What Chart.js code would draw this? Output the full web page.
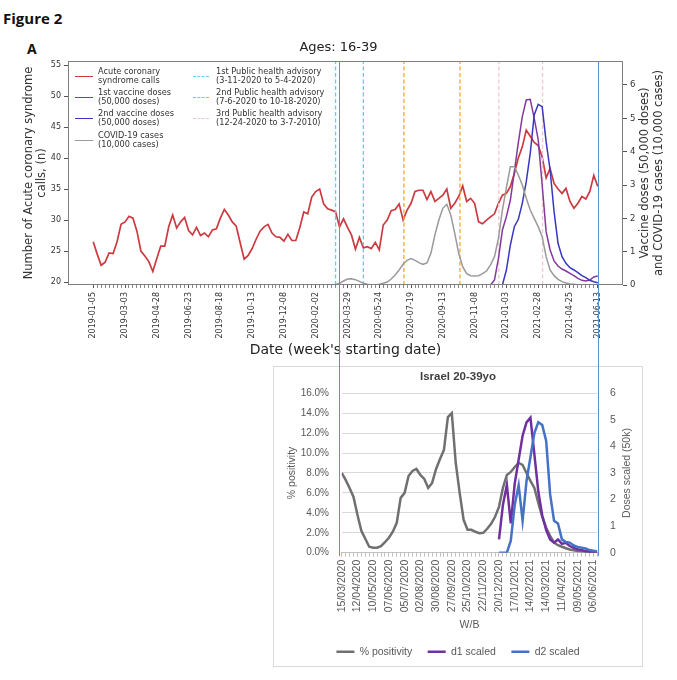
<!DOCTYPE html>
<html>
<head>
<meta charset="utf-8">
<script src="https://cdn.jsdelivr.net/npm/chart.js@4.4.1/dist/chart.umd.min.js"></script>
<style>
  html, body { margin:0; padding:0; background:#fff; }
  body { width:677px; height:680px; position:relative; overflow:hidden; }
  .abs { position:absolute; }
  #figLabel { left:3px; top:8px; font:700 15px 'Open Sans', sans-serif; color:#111; line-height:20px; }
  #panelA { left:27px; top:40px; font:700 14px 'Open Sans', sans-serif; color:#111; line-height:18px; }
  #topWrap { left:0; top:0; width:677px; height:360px; }
  #botFrame { left:273px; top:366px; width:370px; height:301px; border:1px solid #d9d9d9; box-sizing:border-box; }
  #botWrap { left:273px; top:366px; width:370px; height:301px; }
  .leg { font-family:'DejaVu Sans', sans-serif; font-size:8.2px; line-height:9px; color:#333; white-space:nowrap; }
  .sw { height:0; }
  .rtitle { text-align:center; white-space:nowrap; transform:rotate(-90deg); transform-origin:50% 50%; }
  .overlay { background:#5b8fd4; width:1.4px; }
</style>
</head>
<body>
<div id="figLabel" class="abs">Figure 2</div>
<div id="panelA" class="abs">A</div>

<div id="topWrap" class="abs"><canvas id="topChart" width="677" height="360"></canvas></div>

<!-- legend of the top panel -->
<div class="abs sw" style="left:75px;top:75.5px;width:18px;border-top:1.6px solid #cc3a40;"></div>
<div class="abs leg" style="left:98px;top:66.5px;">Acute coronary<br>syndrome calls</div>
<div class="abs sw" style="left:75px;top:96.5px;width:18px;border-top:1.5px solid #84389c;"></div>
<div class="abs leg" style="left:98px;top:87.5px;">1st vaccine doses<br>(50,000 doses)</div>
<div class="abs sw" style="left:75px;top:117.5px;width:18px;border-top:1.5px solid #3737c0;"></div>
<div class="abs leg" style="left:98px;top:108.5px;">2nd vaccine doses<br>(50,000 doses)</div>
<div class="abs sw" style="left:75px;top:139.5px;width:18px;border-top:1.5px solid #9a9a9a;"></div>
<div class="abs leg" style="left:98px;top:130.5px;">COVID-19 cases<br>(10,000 cases)</div>
<div class="abs sw" style="left:193px;top:75.5px;width:16px;border-top:1.4px dashed #55d6e2;"></div>
<div class="abs leg" style="left:216px;top:66.5px;">1st Public health advisory<br>(3-11-2020 to 5-4-2020)</div>
<div class="abs sw" style="left:193px;top:96.5px;width:16px;border-top:1.4px dashed #f0a830;"></div>
<div class="abs leg" style="left:216px;top:87.5px;">2nd Public health advisory<br>(7-6-2020 to 10-18-2020)</div>
<div class="abs sw" style="left:193px;top:117.5px;width:16px;border-top:1.4px dashed #f2c6cf;"></div>
<div class="abs leg" style="left:216px;top:108.5px;">3rd Public health advisory<br>(12-24-2020 to 3-7-2010)</div>

<div class="abs rtitle" style="left:531px;top:159px;width:240px;height:28px;font:11.5px/14px 'DejaVu Sans',sans-serif;color:#333;">Vaccine doses (50,000 doses)<br>and COVID-19 cases (10,000 cases)</div>

<div id="botFrame" class="abs"></div>
<div id="botWrap" class="abs"><canvas id="botChart" width="370" height="301"></canvas></div>
<div class="abs rtitle" style="left:566px;top:466px;width:120px;height:14px;font:10.5px/14px 'Liberation Sans',sans-serif;color:#595959;">Doses scaled (50k)</div>

<div class="abs overlay" style="left:338.8px;top:61px;height:495px;"></div>
<div class="abs overlay" style="left:597.6px;top:61px;height:495px;"></div>

<script>
// ---------------- Panel A data (weekly, index 0 = 2019-01-05) ----------------
const weekTickPos = [0, 8, 16, 24, 32, 40, 48, 56, 64, 72, 80, 88, 96, 104, 112, 120, 127];
const weekTickLabels = ['2019-01-05','2019-03-03','2019-04-28','2019-06-23','2019-08-18','2019-10-13',
  '2019-12-08','2020-02-02','2020-03-29','2020-05-24','2020-07-19','2020-09-13','2020-11-08',
  '2021-01-03','2021-02-28','2021-04-25','2021-06-13'];

const acsCalls = [
  26.5, 24.5, 22.7, 23.2, 24.7, 24.6, 26.5, 29.3, 29.7, 30.6,
  30.3, 28.2, 25.0, 24.2, 23.3, 21.7, 23.8, 25.8, 25.8, 28.9,
  30.8, 28.7, 29.7, 30.4, 28.3, 27.6, 28.8, 27.5, 27.9, 27.3,
  28.4, 28.6, 30.3, 31.7, 30.8, 29.7, 29.0, 26.3, 23.7, 24.3,
  25.4, 26.9, 28.2, 28.9, 29.3, 27.9, 27.3, 27.2, 26.6, 27.7,
  26.7, 26.7, 28.8, 31.3, 31.0, 33.7, 34.6, 35.0, 32.6, 31.8,
  31.6, 31.3, 28.9, 30.2, 28.8, 27.6, 25.3, 27.2, 25.5, 25.7,
  25.4, 26.4, 25.2, 29.2, 30.0, 31.5, 31.7, 32.6, 30.0, 31.6,
  32.7, 34.6, 34.8, 34.8, 33.3, 34.6, 33.0, 33.5, 34.0, 35.0,
  31.9, 32.7, 33.8, 35.5, 33.0, 33.5, 32.7, 29.7, 29.4, 30.0,
  30.5, 31.0, 32.7, 34.0, 34.3, 35.4, 37.5, 40.0, 41.8, 44.5,
  43.5, 42.5, 42.0, 40.2, 36.8, 38.3, 35.9, 35.0, 34.3, 35.1,
  33.0, 31.9, 32.7, 33.8, 33.4, 34.6, 37.2, 35.4
];

const covidCasesStart = 59;   // first week with COVID-19 case data
const covidCases = [
  0, 0, 0.01, 0.05, 0.12, 0.18, 0.19, 0.16, 0.11, 0.05,
  0.02, 0, 0, 0.02, 0.05, 0.09, 0.18, 0.30, 0.45, 0.62,
  0.74, 0.79, 0.74, 0.67, 0.62, 0.66, 0.95, 1.50, 1.95, 2.30,
  2.42, 2.10, 1.55, 0.95, 0.55, 0.34, 0.28, 0.27, 0.28, 0.34,
  0.42, 0.60, 0.85, 1.40, 2.25, 2.92, 3.55, 3.55, 3.30, 3.00,
  2.60, 2.25, 2.00, 1.75, 1.45, 0.85, 0.45, 0.28, 0.17, 0.10,
  0.06, 0.03, 0.02, 0.01, 0, 0, 0, 0, 0
];

const dose1Start = 100;
const dose1 = [0, 0.15, 0.80, 1.65, 2.05, 2.55, 3.40, 4.27, 5.05, 5.55,
  5.57, 5.00, 4.37, 3.00, 1.60, 1.05, 0.72, 0.57, 0.48, 0.42,
  0.35, 0.28, 0.20, 0.14, 0.12, 0.15, 0.24, 0.27];

const dose2Start = 103;
const dose2 = [0, 0.45, 1.20, 1.75, 1.97, 2.45, 3.10, 3.95, 5.10, 5.42,
  5.35, 4.30, 3.45, 2.20, 1.25, 0.85, 0.65, 0.52, 0.45, 0.37,
  0.28, 0.22, 0.14, 0.10, 0.07];

const advisory1Weeks = [61.0, 68.0];
const advisory2Weeks = [78.2, 92.3];
const advisory3Weeks = [102.1, 113.1];

// ---------------- Panel B data (weekly, index 0 = 15/03/2020) ----------------
const ilTickPos = [0, 4, 8, 12, 16, 20, 24, 28, 32, 36, 40, 44, 48, 52, 56, 60, 64];
const ilTickLabels = ['15/03/2020','12/04/2020','10/05/2020','07/06/2020','05/07/2020','02/08/2020',
  '30/08/2020','27/09/2020','25/10/2020','22/11/2020','20/12/2020','17/01/2021','14/02/2021',
  '14/03/2021','11/04/2021','09/05/2021','06/06/2021'];

const positivity = [
  8.0, 7.3, 6.5, 5.6, 3.8, 2.2, 1.4, 0.6, 0.5, 0.5,
  0.65, 1.05, 1.5, 2.1, 3.0, 5.5, 6.0, 7.7, 8.2, 8.4,
  7.8, 7.4, 6.5, 7.0, 8.4, 9.4, 10.3, 13.6, 14.0, 9.0,
  6.0, 3.3, 2.3, 2.3, 2.1, 1.95, 2.0, 2.4, 2.9, 3.6,
  4.6, 6.5, 7.8, 8.1, 8.6, 9.0, 8.8, 8.0, 7.2, 6.5,
  5.0, 3.6, 2.5, 1.7, 1.0, 0.75, 0.6, 0.45, 0.32, 0.25,
  0.18, 0.14, 0.10, 0.07, 0.05, 0.04
];

const d1Start = 40;
const d1Scaled = [0.5, 1.8, 2.55, 1.1, 2.6, 3.5, 4.4, 4.9, 5.08, 3.7,
  2.3, 1.4, 0.85, 0.5, 0.38, 0.5, 0.33, 0.37, 0.25, 0.18,
  0.13, 0.10, 0.06, 0.04, 0.03, 0.02];

const d2Start = 40;
const d2Scaled = [0, 0, 0, 0.45, 1.8, 2.54, 1.2, 2.7, 3.6, 4.5,
  4.91, 4.8, 4.2, 2.2, 1.2, 1.1, 0.5, 0.4, 0.38, 0.27,
  0.22, 0.19, 0.16, 0.10, 0.07, 0.05];

// ---------------- helpers ----------------
const toPts = (start, arr) => arr.map((v, i) => ({ x: start + i, y: v }));
function vlines(weeks, lo, hi) {
  const pts = [];
  weeks.forEach((w, k) => {
    if (k > 0) pts.push({ x: (weeks[k - 1] + w) / 2, y: null });
    pts.push({ x: w, y: lo }, { x: w, y: hi });
  });
  return pts;
}
const framePlugin = {
  id: 'frame',
  afterDatasetsDraw(chart, args, opts) {
    const { ctx, chartArea: a } = chart;
    ctx.save();
    ctx.strokeStyle = opts.color || '#808080';
    ctx.lineWidth = opts.width || 1;
    ctx.strokeRect(Math.round(a.left) + 0.5, Math.round(a.top) + 0.5,
      Math.round(a.width) - 1, Math.round(a.height) - 1);
    ctx.restore();
  }
};

// ---------------- Panel A chart ----------------
const topLabelAt = {};
weekTickPos.forEach((p, k) => { topLabelAt[p] = weekTickLabels[k]; });
const leftMin = 19.52, leftMax = 55.65;
const dv = 'DejaVu Sans';

new Chart(document.getElementById('topChart'), {
  type: 'line',
  data: {
    datasets: [
      { label: 'COVID-19 cases', data: toPts(covidCasesStart, covidCases), yAxisID: 'y2',
        borderColor: '#9a9a9a', borderWidth: 1.5, pointRadius: 0, order: 1 },
      { label: '2nd vaccine doses', data: toPts(dose2Start, dose2), yAxisID: 'y2',
        borderColor: '#3737c0', borderWidth: 1.5, pointRadius: 0, order: 2 },
      { label: '1st vaccine doses', data: toPts(dose1Start, dose1), yAxisID: 'y2',
        borderColor: '#84389c', borderWidth: 1.5, pointRadius: 0, order: 3 },
      { label: '3rd advisory', data: vlines(advisory3Weeks, leftMin, leftMax), yAxisID: 'y',
        borderColor: '#f2c6cf', borderWidth: 1.3, borderDash: [4, 2.5], pointRadius: 0, spanGaps: false, order: 4 },
      { label: '2nd advisory', data: vlines(advisory2Weeks, leftMin, leftMax), yAxisID: 'y',
        borderColor: '#f0a830', borderWidth: 1.3, borderDash: [4, 2.5], pointRadius: 0, spanGaps: false, order: 5 },
      { label: '1st advisory', data: vlines(advisory1Weeks, leftMin, leftMax), yAxisID: 'y',
        borderColor: '#55d6e2', borderWidth: 1.3, borderDash: [4, 2.5], pointRadius: 0, spanGaps: false, order: 6 },
      { label: 'Acute coronary syndrome calls', data: toPts(0, acsCalls), yAxisID: 'y',
        borderColor: '#cc3a40', borderWidth: 1.7, pointRadius: 0, order: 7 }
    ]
  },
  options: {
    responsive: false, animation: false, events: [],
    layout: { padding: 0 },
    plugins: {
      legend: { display: false },
      tooltip: { enabled: false },
      title: { display: true, text: 'Ages: 16-39', color: '#222',
        font: { family: dv, size: 13, weight: 'normal' }, padding: { top: 39.4, bottom: 6 } },
      frame: { color: '#808080', width: 1 }
    },
    scales: {
      x: {
        type: 'linear', min: -6.35, max: 133.35,
        afterBuildTicks(s) { s.ticks = acsCalls.map((_, i) => ({ value: i })); },
        afterFit(s) { s.height = 75; },
        ticks: { autoSkip: false, minRotation: 90, maxRotation: 90, padding: 4, color: '#333',
          font: { family: dv, size: 8 }, callback: (v) => topLabelAt[v] !== undefined ? topLabelAt[v] : '' },
        grid: { drawOnChartArea: false, drawTicks: true, tickLength: 3, tickColor: '#555',
          tickWidth: (c) => (c.tick && topLabelAt[c.tick.value] !== undefined) ? 1 : 0.7 },
        border: { display: false },
        title: { display: true, text: "Date (week's starting date)", color: '#222',
          font: { family: dv, size: 14 }, padding: { top: 0, bottom: 1 } }
      },
      y: {
        position: 'left', min: leftMin, max: leftMax,
        afterBuildTicks(s) { s.ticks = [20, 25, 30, 35, 40, 45, 50, 55].map(v => ({ value: v })); },
        afterFit(s) { s.width = 68; },
        ticks: { color: '#333', padding: 3, font: { family: dv, size: 8 } },
        grid: { drawOnChartArea: false, tickLength: 4, tickColor: '#555' },
        border: { display: false },
        title: { display: true, text: ['Number of Acute coronary syndrome', 'calls, (n)'], color: '#333',
          font: { family: dv, size: 11.5, lineHeight: 1.15 }, padding: { top: 22.4, bottom: 0 } }
      },
      y2: {
        position: 'right', min: 0, max: 6.72,
        afterBuildTicks(s) { s.ticks = [0, 1, 2, 3, 4, 5, 6].map(v => ({ value: v })); },
        afterFit(s) { s.width = 54; },
        ticks: { color: '#333', padding: 3, font: { family: dv, size: 8.5 } },
        grid: { drawOnChartArea: false, tickLength: 4, tickColor: '#555' },
        border: { display: false }
      }
    }
  },
  plugins: [framePlugin]
});

// ---------------- Panel B chart ----------------
const ilLabelAt = {};
ilTickPos.forEach((p, k) => { ilLabelAt[p] = ilTickLabels[k]; });
const ls = 'Liberation Sans';

new Chart(document.getElementById('botChart'), {
  type: 'line',
  data: {
    datasets: [
      { label: '% positivity', data: toPts(0, positivity), yAxisID: 'y',
        borderColor: '#707070', borderWidth: 2.5, pointRadius: 0, order: 3 },
      { label: 'd1 scaled', data: toPts(d1Start, d1Scaled), yAxisID: 'y2',
        borderColor: '#7030a0', borderWidth: 2.5, pointRadius: 0, order: 2 },
      { label: 'd2 scaled', data: toPts(d2Start, d2Scaled), yAxisID: 'y2',
        borderColor: '#4472c4', borderWidth: 2.5, pointRadius: 0, order: 1 }
    ]
  },
  options: {
    responsive: false, animation: false, events: [],
    layout: { padding: 0 },
    plugins: {
      tooltip: { enabled: false },
      title: { display: true, text: 'Israel 20-39yo', color: '#404040',
        font: { family: ls, size: 11.5, weight: 'bold' }, padding: { top: 3.5, bottom: 9.9 } },
      legend: { display: true, position: 'bottom',
        labels: { usePointStyle: true, pointStyle: 'line', pointStyleWidth: 18, padding: 15.5,
          color: '#595959', font: { family: ls, size: 10.5 },
          sort: (a, b) => a.datasetIndex - b.datasetIndex } }
    },
    scales: {
      x: {
        type: 'linear', min: 0, max: 65,
        afterBuildTicks(s) { s.ticks = positivity.map((_, i) => ({ value: i })); },
        afterFit(s) { s.height = 78.3; },
        ticks: { autoSkip: false, minRotation: 90, maxRotation: 90, padding: 3, color: '#595959',
          font: { family: ls, size: 10.5 }, callback: (v) => ilLabelAt[v] !== undefined ? ilLabelAt[v] : '' },
        grid: { drawOnChartArea: false, drawTicks: true, tickLength: 4, tickColor: '#bfbfbf' },
        border: { display: true, color: '#bfbfbf' },
        title: { display: true, text: 'W/B', color: '#595959', font: { family: ls, size: 10.5 },
          padding: { top: 0, bottom: 0 } }
      },
      y: {
        position: 'left', min: 0, max: 16,
        afterFit(s) { s.width = 68.7; },
        ticks: { stepSize: 2, padding: 12.7, color: '#595959', font: { family: ls, size: 10 },
          callback: (v) => v.toFixed(1) + '%' },
        grid: { color: '#d9d9d9', drawTicks: false },
        border: { display: false },
        title: { display: true, text: '% positivity', color: '#595959', font: { family: ls, size: 10.5 },
          padding: { top: 12.4, bottom: 0 } }
      },
      y2: {
        position: 'right', min: 0, max: 6,
        afterFit(s) { s.width = 45.7; },
        ticks: { stepSize: 1, padding: 12.7, color: '#595959', font: { family: ls, size: 10.5 } },
        grid: { drawOnChartArea: false, drawTicks: false },
        border: { display: false }
      }
    }
  }
});
</script>
</body>
</html>
